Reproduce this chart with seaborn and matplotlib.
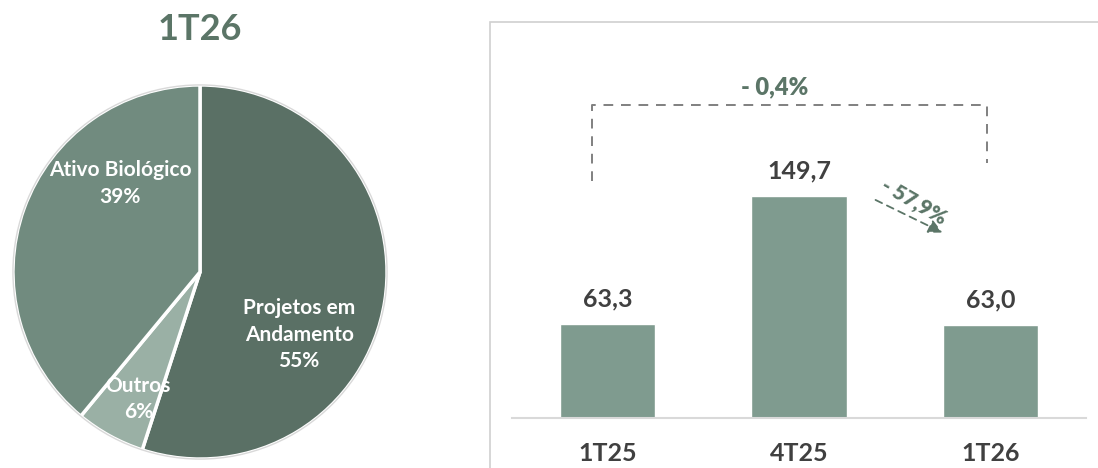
import matplotlib
matplotlib.use("Agg")
import matplotlib.pyplot as plt
from matplotlib.patches import Rectangle
import seaborn as sns

# ---
# Dados
fatias = ["Projetos em\nAndamento", "Outros", "Ativo Biológico"]
fatias_pct = [55, 6, 39]
titulo_pizza = "1T26"

trimestres = ["1T25", "4T25", "1T26"]
valores = [63.3, 149.7, 63.0]
var_total = "- 0,4%"
var_tri = "- 57,9%"

# Cores
VERDE_ESCURO = "#5a7065"
VERDE_MEDIO = "#718b7f"
VERDE_CLARO = "#9ab0a5"
VERDE_BARRA = "#7f9b8f"
VERDE_TEXTO = "#5b7567"
CINZA_TEXTO = "#404040"

sns.set_theme(style="white")
plt.rcParams["font.family"] = ["Lato", "DejaVu Sans"]

fig = plt.figure(figsize=(10.98, 4.68), dpi=100)

# ============================================================
# Pizza
# ============================================================
ax_p = fig.add_axes([12 / 1098, 8 / 468, 376 / 1098, 376 / 468])
wedges, _ = ax_p.pie(
    fatias_pct,
    colors=[VERDE_ESCURO, VERDE_CLARO, VERDE_MEDIO],
    startangle=90,
    counterclock=False,
    radius=1,
    wedgeprops=dict(edgecolor="white", linewidth=2.5),
)
ax_p.add_patch(plt.Circle((0, 0), 1.0, fill=False, ec="#d9d9d9", lw=1))
ax_p.set_xlim(-1.005, 1.005)
ax_p.set_ylim(-1.005, 1.005)
ax_p.set_aspect("equal")
ax_p.axis("off")

pos_rotulos = [(0.53, -0.335), (-0.33, -0.68), (-0.426, 0.473)]
for nome, pct, (px_, py_) in zip(fatias, fatias_pct, pos_rotulos):
    ax_p.text(px_, py_, f"{nome}\n{pct}%", ha="center", va="center",
              color="white", fontsize=15, fontweight="bold", linespacing=1.4)

fig.text(200 / 1098, 1 - 30 / 468, titulo_pizza, ha="center", va="center",
         fontsize=26, fontweight="bold", color=VERDE_TEXTO)

# ============================================================
# Barras
# ============================================================
# moldura do painel
fig.patches.append(Rectangle((490 / 1098, -0.1), 0.6, 1 - 22 / 468 + 0.1,
                             transform=fig.transFigure, fill=False,
                             ec="#d0d0d0", lw=1.2, clip_on=False))

ax = fig.add_axes([512 / 1098, 50 / 468, 574 / 1098, 356 / 468])
sns.barplot(x=trimestres, y=valores, color=VERDE_BARRA, saturation=1,
            width=0.5, ax=ax)
ax.set_xlim(-0.5, 2.5)
ax.set_ylim(0, 240)
ax.set_facecolor("none")
for s in ["top", "left", "right"]:
    ax.spines[s].set_visible(False)
ax.spines["bottom"].set_color("#d9d9d9")
ax.spines["bottom"].set_linewidth(1.5)
ax.set_yticks([])
ax.tick_params(axis="x", length=0, pad=17, labelsize=18, labelcolor=CINZA_TEXTO)
for t in ax.get_xticklabels():
    t.set_fontweight("bold")

for i, v in enumerate(valores):
    ax.annotate(f"{v:.1f}".replace(".", ","), (i, v), xytext=(0, 25),
                textcoords="offset pixels", ha="center", va="center",
                fontsize=18, fontweight="bold", color=CINZA_TEXTO)

# colchete tracejado 1T25 -> 1T26
y_topo = 211
ax.plot([0 - 0.08, 0 - 0.08, 2 - 0.018, 2 - 0.018],
        [160, y_topo, y_topo, 172],
        color="#808080", lw=1.4, ls=(0, (5, 4)), solid_capstyle="butt")
ax.text(0.87, y_topo + 12, var_total, ha="center", va="center",
        fontsize=17, fontweight="heavy", color=VERDE_TEXTO)

# seta 4T25 -> 1T26
ax.annotate("", xy=(1.75, 125), xytext=(1.40, 147),
            arrowprops=dict(arrowstyle="-|>,head_length=0.7,head_width=0.35",
                            color=VERDE_TEXTO, lw=1.3, ls=(0, (4, 3)),
                            shrinkA=0, shrinkB=0))
ax.text(1.6, 146, var_tri, ha="center", va="center", rotation=-30,
        fontsize=15, fontweight="heavy", color=VERDE_TEXTO)

fig.savefig("out.png", dpi=100)
